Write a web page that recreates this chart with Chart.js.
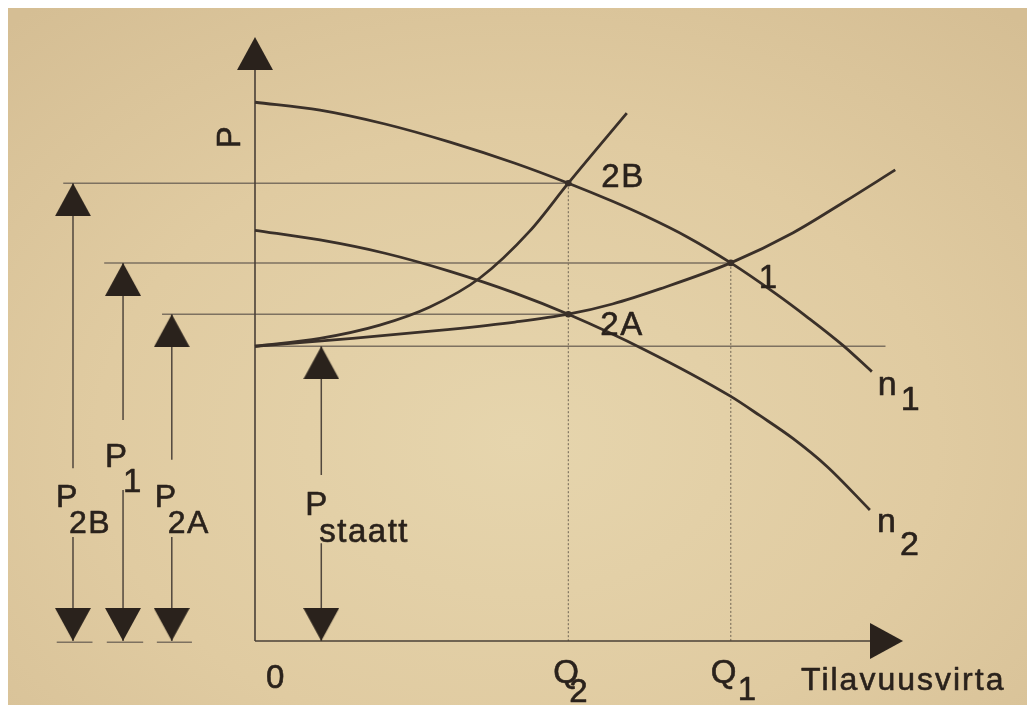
<!DOCTYPE html>
<html lang="fi">
<head>
<meta charset="utf-8">
<title>Pumpun toimintapisteet</title>
<script src="https://cdn.jsdelivr.net/npm/chart.js@4.4.1/dist/chart.umd.min.js"></script>
<style>
  html, body { margin: 0; padding: 0; background: #fff; overflow: hidden; }
  #sheet { position: relative; width: 1027px; height: 709px; background: #fff; }
  #paper {
    position: absolute; left: 8px; top: 8px; right: 0; bottom: 4px;
    background: radial-gradient(ellipse 75% 80% at 50% 62%, #e6d5ad 0%, #e0cba1 55%, #d5be94 100%);
  }
  #c { position: absolute; left: 0; top: 0; }
</style>
</head>
<body>
<div id="sheet">
  <div id="paper"></div>
  <canvas id="c" width="1027" height="709"></canvas>
</div>
<script>
// Flow (x) and pressure (y) in relative units, both axes run 0..100.
const Q2 = 48.2, Q1 = 73.2;
const P2B = 75.8, P1 = 62.6, P2A = 54.1, PSTAATT = 48.8;

// Pump curve at speed n1
const n1Q = [0, 10, 20, 30, 40, 48.2, 55, 60, 66.5, 73.2, 80, 85, 90.5, 94.9];
const n1P = [89.2, 87.9, 85.6, 82.6, 79.1, 75.8, 72.8, 70.4, 66.9, 62.6, 57.6, 53.6, 48.9, 44.6];

// Pump curve at speed n2
const n2Q = [0, 10, 20, 30, 40, 48.2, 60, 73.2, 77.7, 82.8, 88.0, 94.6];
const n2P = [68.0, 66.4, 64.2, 61.2, 57.6, 54.1, 48.2, 40.5, 37.3, 33.5, 28.9, 21.7];

// Throttled system curve (through 2B)
const sysBQ = [0, 10, 19.2, 26.9, 34.6, 42.3, 48.2, 57.2];
const sysBP = [48.8, 50.1, 52.3, 55.3, 60.1, 67.9, 75.8, 87.4];

// Open system curve (through 2A and 1)
const sysAQ = [0, 15, 30, 40, 48.2, 55, 62.3, 73.2, 82.8, 90.5, 98.5];
const sysAP = [48.8, 50.1, 51.6, 52.8, 54.1, 55.8, 58.3, 62.6, 67.6, 72.6, 78.0];

// Dimension arrows left of the P axis (x position, pressure, label gap low/high)
const dimNames = ['P2B', 'P1', 'P2A', 'Pstaatt'];
const dimQ     = [-28.0, -20.3, -12.8, 10.2];
const dimP     = [P2B, P1, P2A, PSTAATT];
const gapHigh  = [28.6, 36.6, 30.0, 27.5];
const gapLow   = [17.2, 25.0, 17.2, 16.2];

// Where the horizontal pressure lines start and end
const levelStart = [-29.5, -23.2, -14.3, 0];
const levelEnd   = [Q2, Q1, Q2, 97.0];

// Short base marks under the dimension arrows
const baseFrom = [-30.5, -22.8, -15.1];
const baseTo   = [-25.0, -17.2, -9.7];

const AXIS_END = 99.7;

const INK = '#3a3029';
const GUIDE = '#7d7160';
const TEXT = '#2a221c';
const FONT = '"Liberation Sans", Arial, Helvetica, sans-serif';

const pts = (xs, ys) => xs.map((x, i) => ({ x, y: ys[i] }));

function lineSet(data, extra) {
  return Object.assign({
    data, showLine: true, pointRadius: 0, borderColor: INK, borderWidth: 1.6,
    fill: false, tension: 0, order: 4
  }, extra);
}

// Solid triangle whose tip sits at the centre of the canvas, so a point drawn
// with it puts the arrow tip exactly on the data value.
function arrowhead(w, h, color) {
  const c = document.createElement('canvas');
  c.width = w; c.height = 2 * h;
  const g = c.getContext('2d');
  g.fillStyle = color;
  g.beginPath();
  g.moveTo(w / 2, h);
  g.lineTo(w, 2 * h);
  g.lineTo(0, 2 * h);
  g.closePath();
  g.fill();
  return c;
}
const head = arrowhead(36, 33, '#2a221c');

const datasets = [];

// Horizontal pressure levels
levelStart.forEach((x0, i) => {
  datasets.push(lineSet([{ x: x0, y: dimP[i] }, { x: levelEnd[i], y: dimP[i] }],
    { borderColor: GUIDE, borderWidth: 1.5, order: 6 }));
});

// Vertical flow markers
[[Q2, P2B], [Q1, P1]].forEach(([q, p]) => {
  datasets.push(lineSet([{ x: q, y: p }, { x: q, y: 0 }],
    { borderColor: '#6f6453', borderWidth: 1, borderDash: [2, 2], order: 6 }));
});

// Base marks
baseFrom.forEach((x0, i) => {
  datasets.push(lineSet([{ x: x0, y: -0.2 }, { x: baseTo[i], y: -0.2 }],
    { borderColor: GUIDE, borderWidth: 1.4, order: 6 }));
});

// Axes
datasets.push(lineSet([{ x: 0, y: 0 }, { x: 0, y: 97 }], { borderColor: '#4a4037', order: 5 }));
datasets.push(lineSet([{ x: 0, y: 0 }, { x: 97, y: 0 }], { borderColor: '#4a4037', order: 5 }));

// Dimension arrow shafts (broken where the label sits)
dimQ.forEach((q, i) => {
  datasets.push(lineSet([
    { x: q, y: dimP[i] }, { x: q, y: gapHigh[i] }, { x: q, y: null },
    { x: q, y: gapLow[i] }, { x: q, y: 0 }
  ], { borderColor: '#51473d', borderWidth: 1.5, spanGaps: false, order: 5 }));
});

// Characteristic curves
const curveStyle = { borderWidth: 2.8, cubicInterpolationMode: 'monotone', order: 2 };
datasets.push(lineSet(pts(n1Q, n1P), curveStyle));
datasets.push(lineSet(pts(n2Q, n2P), curveStyle));
datasets.push(lineSet(pts(sysBQ, sysBP), curveStyle));
datasets.push(lineSet(pts(sysAQ, sysAP), curveStyle));

// Operating points
datasets.push({
  data: [{ x: Q2, y: P2B }, { x: Q1, y: P1 }, { x: Q2, y: P2A }],
  showLine: false, pointRadius: 3.3, pointBackgroundColor: INK, pointBorderWidth: 0, order: 1
});

// Arrowheads: axes and both ends of every dimension arrow
const headPts = [{ x: 0, y: 100 }, { x: AXIS_END, y: 0 }];
const headRot = [0, 90];
dimQ.forEach((q, i) => {
  headPts.push({ x: q, y: dimP[i] }); headRot.push(0);
  headPts.push({ x: q, y: 0 });       headRot.push(180);
});
datasets.push({
  data: headPts, showLine: false, pointRadius: 10, pointStyle: head,
  pointRotation: headRot, order: 0
});

// Text: anchor in data units plus a pixel offset for the baseline start
const LABELS = [
  { text: '2B', at: [Q2, P2B], dx: 33, dy: 4, size: 33, spacing: 1.5 },
  { text: '1',  at: [Q1, P1],  dx: 28, dy: 25, size: 33 },
  { text: '2A', at: [Q2, P2A], dx: 32, dy: 21, size: 33, spacing: 1.5 },
  { text: 'n', sub: '1', at: [n1Q[n1Q.length - 1], n1P[n1P.length - 1]], dx: 6, dy: 23, subDx: 23, subDy: 15, size: 34 },
  { text: 'n', sub: '2', at: [n2Q[n2Q.length - 1], n2P[n2P.length - 1]], dx: 7, dy: 22, subDx: 23, subDy: 23, size: 34 },
  { text: 'P', sub: '2B', at: [dimQ[0], gapHigh[0]], dx: -17, dy: 39, subDx: 13, subDy: 26, size: 32, spacing: 1.5 },
  { text: 'P', sub: '1',  at: [dimQ[1], gapHigh[1]], dx: -18, dy: 47, subDx: 18, subDy: 25, size: 33 },
  { text: 'P', sub: '2A', at: [dimQ[2], gapHigh[2]], dx: -17, dy: 47, subDx: 13, subDy: 26, size: 32, spacing: 1.5 },
  { text: 'P', sub: 'staatt', at: [dimQ[3], gapHigh[3]], dx: -16, dy: 40, subDx: 14, subDy: 27, size: 33, spacing: 1.5 },
  { text: '0', at: [0, 0], dx: 11, dy: 47, size: 33 },
  { text: 'Q', sub: '2', at: [Q2, 0], dx: -15, dy: 42, subDx: 16, subDy: 19, size: 33 },
  { text: 'Q', sub: '1', at: [Q1, 0], dx: -20, dy: 42, subDx: 27, subDy: 17, size: 33 },
  { text: 'Tilavuusvirta', at: [AXIS_END, 0], dx: -102, dy: 49, size: 32, spacing: 2 },
  { text: 'P', at: [0, 83.4], dx: -24, dy: 0, size: 33, rotate: -90 }
];

const labelPlugin = {
  id: 'diagramLabels',
  afterDatasetsDraw(chart) {
    const { ctx, scales: { x, y } } = chart;
    ctx.save();
    ctx.fillStyle = TEXT;
    ctx.strokeStyle = TEXT;
    ctx.lineWidth = 0.6;
    ctx.lineJoin = 'round';
    const put = (t, px, py) => { ctx.fillText(t, px, py); ctx.strokeText(t, px, py); };
    for (const l of LABELS) {
      const px = x.getPixelForValue(l.at[0]) + l.dx;
      const py = y.getPixelForValue(l.at[1]) + l.dy;
      ctx.font = `${l.size}px ${FONT}`;
      ctx.letterSpacing = (l.spacing || 0) + 'px';
      if (l.rotate) {
        ctx.save();
        ctx.translate(px, py);
        ctx.rotate(l.rotate * Math.PI / 180);
        ctx.textAlign = 'center';
        ctx.textBaseline = 'middle';
        put(l.text, 0, 0);
        ctx.restore();
        continue;
      }
      ctx.textAlign = 'left';
      ctx.textBaseline = 'alphabetic';
      put(l.text, px, py);
      if (l.sub) put(l.sub, px + l.subDx, py + l.subDy);
    }
    ctx.restore();
  }
};

new Chart(document.getElementById('c'), {
  type: 'line',
  data: { datasets },
  options: {
    responsive: false,
    animation: false,
    events: [],
    layout: { padding: 0, autoPadding: false },
    plugins: { legend: { display: false }, tooltip: { enabled: false } },
    scales: {
      x: { type: 'linear', display: false, min: -39.23, max: 118.77 },
      y: { type: 'linear', display: false, min: -11.26, max: 106.13 }
    }
  },
  plugins: [labelPlugin]
});
</script>
</body>
</html>
